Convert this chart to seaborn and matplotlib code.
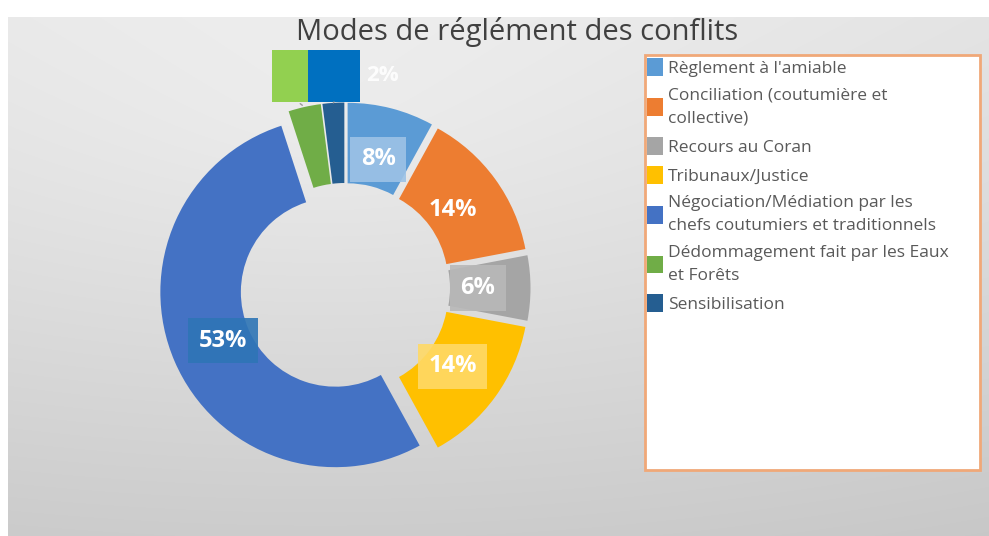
import numpy as np
import matplotlib
matplotlib.use('Agg')
import matplotlib.pyplot as plt
import seaborn as sns
from matplotlib.patches import Rectangle

title = "Modes de réglément des conflits"
categories = [
    "Règlement à l'amiable",
    "Conciliation (coutumière et\ncollective)",
    "Recours au Coran",
    "Tribunaux/Justice",
    "Négociation/Médiation par les\nchefs coutumiers et traditionnels",
    "Dédommagement fait par les Eaux\net Forêts",
    "Sensibilisation",
]
values = [8, 14, 6, 14, 53, 3, 2]
slice_colors = ['#5B9BD5', '#ED7D31', '#A5A5A5', '#FFC000', '#4472C4', '#70AD47', '#255E91']

sns.set_theme(style='white')
plt.rcParams['font.family'] = ['Open Sans', 'DejaVu Sans']
palette = sns.color_palette(slice_colors)

W, H = 989, 536
fig = plt.figure(figsize=(W / 100, H / 100), dpi=100)

# background gradient
bg = fig.add_axes([0, 0, 1, 1])
yy, xx = np.mgrid[0:H, 0:W]
d = np.hypot((xx - 320) / W, (yy - 120) / H)
val = 0.945 - 0.09 * (yy / H) - 0.07 * d
img = np.dstack([val, val, val])
img[:17, :, :] = 1.0
img[:, :8, :] = 1.0
bg.imshow(img, aspect='auto', extent=[0, W, H, 0])
bg.set_xlim(0, W)
bg.set_ylim(H, 0)
bg.axis('off')

# pie axes: center at pixel (345, 288), radius 175 px
R = 175.0
cx, cy = 345.0, 288.0
half = 250.0
ax = fig.add_axes([(cx - half) / W, (H - cy - half) / H, 2 * half / W, 2 * half / H])

wedges, texts, autotexts = ax.pie(
    values, colors=palette, startangle=90, counterclock=False,
    explode=[0.06] * len(values),
    wedgeprops=dict(width=0.46, linewidth=0),
    autopct=lambda p: f'{p:.0f}%', pctdistance=0.70,
    textprops=dict(color='white', fontsize=17, fontweight='bold'))
L = half / R
ax.set_xlim(-L, L)
ax.set_ylim(-L, L)
ax.axis('off')

label_boxes = ['#9DC3E6', None, '#B8B8B8', '#FFD966', '#2E75B6', None, None]
for t, bc in zip(autotexts, label_boxes):
    if bc is not None:
        t.set_bbox(dict(boxstyle='square,pad=0.45', fc=bc, ec='none', alpha=0.9))

def px(x, y):
    return ((x - cx) / R, (cy - y) / R)

# callouts for small slices
for i, (box_l, box_r, col) in zip([5, 6], [(272, 308, '#92D050'), (308, 360, '#0070C0')]):
    autotexts[i].set_visible(False)
    w = wedges[i]
    th = np.deg2rad((w.theta1 + w.theta2) / 2)
    c = w.center
    tip = (c[0] + 1.0 * np.cos(th), c[1] + 1.0 * np.sin(th))
    (x0, y0) = px(box_l, 102)
    (x1, y1) = px(box_r, 50)
    ax.add_patch(Rectangle((x0, y0), x1 - x0, y1 - y0, fc=col, ec='none', clip_on=False, zorder=3))
    base = px((box_l + box_r) / 2 + (8 if i == 5 else 0), 102)
    ax.annotate('', xy=tip, xytext=base,
                arrowprops=dict(arrowstyle='-', color='#9a9a9a', lw=1.0), annotation_clip=False)

lx, ly = px(382, 76)
ax.text(lx, ly, autotexts[6].get_text(), color='white', fontsize=16, fontweight='bold',
        ha='center', va='center', alpha=0.9, clip_on=False, zorder=4)

# title
fig.text(517 / W, 1 - 32 / H, title, ha='center', va='center', fontsize=21, color='#404040')

# legend box
fig.patches.append(Rectangle((645 / W, (H - 470) / H), 335 / W, 415 / H,
                             transform=fig.transFigure, fc='white', ec='#F0A878', lw=2, zorder=1))
leg = fig.legend(wedges, categories, loc='upper left', bbox_to_anchor=(647 / W, (H - 58) / H),
                 frameon=False, fontsize=12.5, labelcolor='#595959', handlelength=0.9,
                 handleheight=1.2, handletextpad=0.3, labelspacing=0.6, borderaxespad=0,
                 borderpad=0)
for t in leg.get_texts():
    t.set_linespacing(1.6)

fig.savefig('out.png', dpi=100)
